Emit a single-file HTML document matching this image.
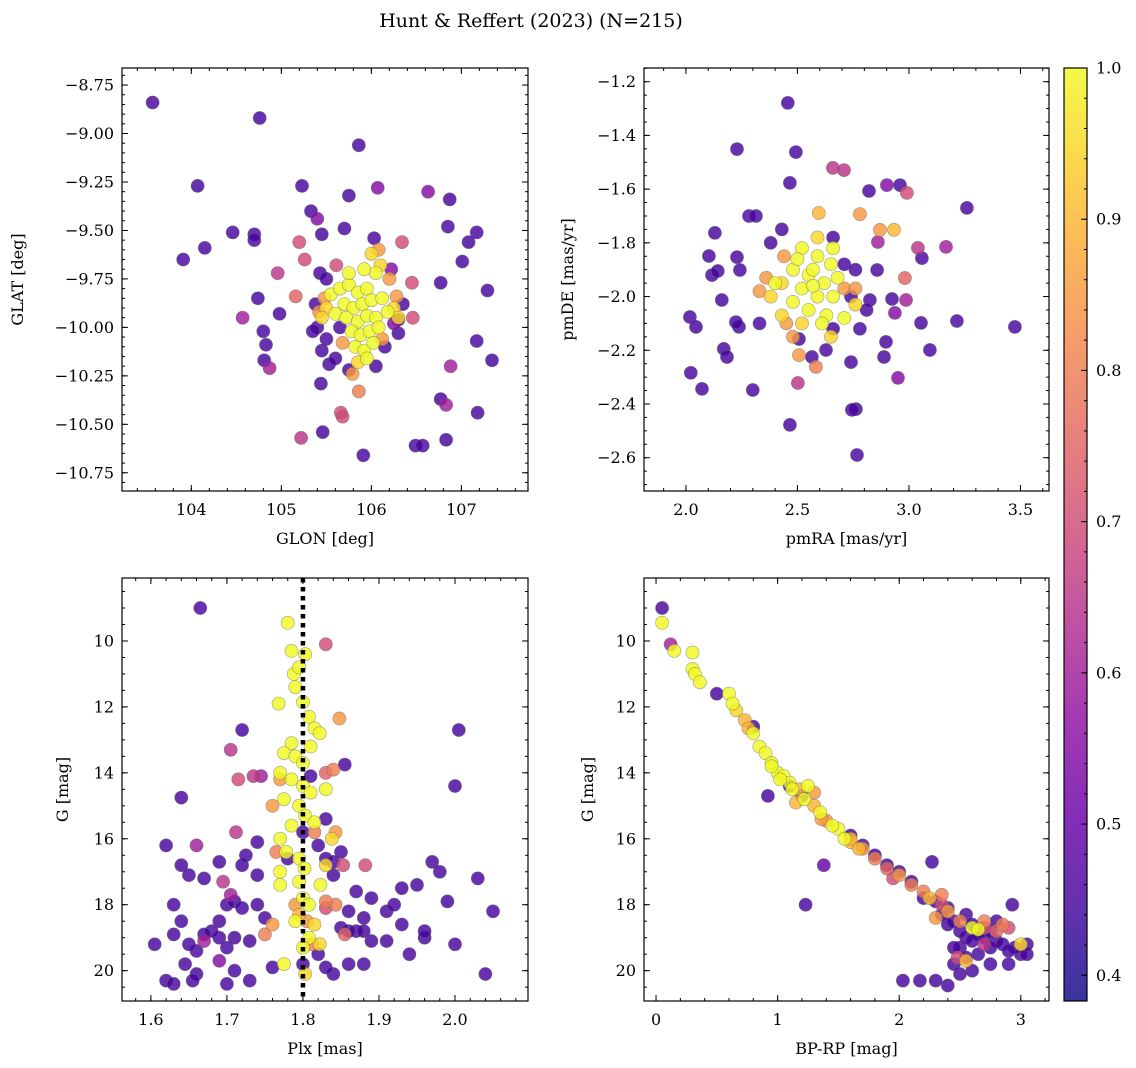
<!DOCTYPE html>
<html><head><meta charset="utf-8"><style>
body{margin:0;background:#fff}
svg{display:block;font-family:"DejaVu Serif","Liberation Serif",serif}
</style></head><body>
<svg id="fig" width="1136" height="1068" viewBox="0 0 1136 1068" xmlns="http://www.w3.org/2000/svg">
<text x="531" y="27" font-size="19" text-anchor="middle">Hunt &amp; Reffert (2023) (N=215)</text>
</svg>
<script>
// ---------- data (x, y, membership probability) ----------
const skyPoints = [
[103.57,-8.84],[104.76,-8.92],[105.86,-9.06],[104.07,-9.27],[105.23,-9.27],[106.07,-9.28,0.55],[106.63,-9.30,0.55],[106.87,-9.34],[105.75,-9.32],[105.33,-9.40],[105.40,-9.44,0.55],[104.15,-9.59],[103.91,-9.65],[104.46,-9.51],[104.70,-9.52],[104.70,-9.55],[105.20,-9.56,0.7],[105.45,-9.52],[105.70,-9.49],[106.85,-9.48],[107.17,-9.51],[107.08,-9.56],[107.01,-9.66],[106.03,-9.54],[106.34,-9.56,0.7],[105.26,-9.65,0.7],[104.96,-9.72,0.65],[105.43,-9.72],[105.61,-9.68,0.7],[106.45,-9.77,0.7],[106.77,-9.77],[107.29,-9.81],[104.74,-9.85],[105.16,-9.84,0.75],[104.57,-9.95,0.6],[104.98,-9.93],[104.80,-10.02],[104.83,-10.09],[104.81,-10.17],[104.87,-10.21,0.6],[107.17,-10.07],[107.34,-10.17],[106.88,-10.20,0.6],[105.44,-10.29],[105.53,-10.19],[105.66,-10.44,0.7],[105.68,-10.46,0.7],[105.22,-10.57,0.65],[105.46,-10.54],[105.91,-10.66],[106.49,-10.61],[106.57,-10.61],[106.83,-10.58],[107.18,-10.44],[106.77,-10.37],[106.83,-10.40,0.6],[105.86,-10.33,0.8],[105.79,-10.24,0.85],[106.46,-9.95,0.7],[106.30,-9.96],
[105.55,-9.83,1],[105.65,-9.80,1],[105.75,-9.78,1],[105.85,-9.82,1],[105.95,-9.80,1],[106.05,-9.72,1],[106.10,-9.68,0.95],[105.70,-9.88,1],[105.80,-9.90,1],[105.90,-9.88,1],[106.00,-9.86,1],[106.12,-9.85,1],[105.60,-9.93,1],[105.72,-9.95,1],[105.85,-9.97,1],[105.95,-9.94,1],[106.05,-9.95,1],[106.18,-9.92,1],[106.25,-9.90,0.95],[105.78,-10.02,1],[105.88,-10.04,1],[105.98,-10.02,1],[106.08,-10.00,1],[105.82,-10.10,1],[105.92,-10.12,1],[106.02,-10.08,1],[105.95,-10.16,1],[105.85,-10.18,0.95],[105.50,-9.90,0.95],[105.45,-9.95,0.95],[106.30,-9.95,0.95],[105.75,-9.72,1],[105.92,-9.70,1],[106.00,-9.62,0.95],
[106.08,-9.60,0.85],[106.20,-9.75,0.85],[105.42,-9.92,0.85],[105.48,-9.85,0.85],[106.12,-10.06,0.85],[105.68,-10.08,0.85],[106.28,-9.84,0.85],
[105.40,-10.00],[105.50,-10.06],[105.45,-10.12],[105.60,-10.16],[106.15,-10.10],[106.30,-10.03],[106.35,-9.88],[105.38,-9.88],[106.05,-10.20],[105.75,-10.22],[106.22,-9.70,0.55],[105.50,-9.75],[105.35,-10.02],[106.25,-9.98,0.55],[105.65,-10.0]
];
const pmPoints = [
[2.457,-1.279],[2.229,-1.451],[2.493,-1.462],[2.659,-1.521,0.65],[2.709,-1.529,0.65],[2.466,-1.577],[2.821,-1.607],[2.901,-1.585,0.55],[2.960,-1.585],[2.991,-1.614,0.7],[3.260,-1.670],[2.283,-1.700],[2.314,-1.700],[2.130,-1.763],[2.596,-1.689,0.9],[2.780,-1.693,0.85],[2.870,-1.752,0.85],[2.933,-1.752,0.9],[3.166,-1.815,0.6],[3.040,-1.819,0.65],[2.103,-1.849],[2.229,-1.853],[2.242,-1.901],[2.117,-1.920],[2.143,-1.905],[2.857,-1.901],[3.058,-1.857],[2.982,-1.931,0.75],[2.861,-1.797,0.6],[2.018,-2.076],[2.045,-2.113],[2.238,-2.113],[2.224,-2.095],[2.161,-2.013],[2.170,-2.195],[2.184,-2.225],[2.072,-2.344],[2.022,-2.284],[2.300,-2.348],[2.466,-2.478],[2.502,-2.322,0.65],[2.762,-2.419],[2.744,-2.422],[2.767,-2.590],[2.740,-2.244],[2.888,-2.225],[2.897,-2.169],[2.951,-2.303,0.55],[3.054,-2.098],[3.094,-2.199],[3.215,-2.091],[3.475,-2.113],[2.924,-2.009],[2.937,-2.061,0.55],[2.987,-2.013,0.6],[2.825,-2.013],[2.507,-2.218,0.85],[2.507,-2.158],[2.583,-2.262,0.8],[2.565,-2.225],[2.628,-2.199],
[2.52,-1.82,1],[2.59,-1.85,1],[2.65,-1.88,1],[2.48,-1.9,1],[2.55,-1.92,1],[2.62,-1.95,1],[2.68,-1.93,1],[2.52,-1.97,1],[2.59,-2.0,1],[2.66,-2.0,1],[2.48,-2.02,1],[2.55,-2.05,1],[2.63,-2.07,1],[2.57,-1.9,1],[2.61,-2.1,1],[2.52,-2.1,0.95],[2.43,-1.95,0.95],[2.71,-2.08,1],[2.59,-1.78,0.95],[2.66,-1.82,1],[2.38,-2.0,0.95],[2.43,-2.07,0.95],[2.76,-2.03,0.95],[2.65,-2.15,0.95],[2.5,-1.86,1],[2.57,-1.96,1],[2.40,-1.95,1],
[2.44,-1.85,0.85],[2.71,-1.97,0.85],[2.36,-1.93,0.85],[2.48,-2.15,0.85],[2.76,-1.97,0.85],[2.45,-2.1,0.85],[2.33,-1.98,0.85],
[2.71,-1.88],[2.76,-1.9],[2.74,-2.0],[2.81,-2.05],[2.38,-1.8],[2.33,-2.1],[2.66,-2.12],[2.78,-2.12],[2.43,-1.75],[2.66,-1.78]
];
const plxPoints = [
[1.665,9.0],
[1.780,9.45,1],[1.785,10.3,1],[1.788,11.0,1],[1.795,10.8,1],[1.803,10.4,1],[1.768,11.9,1],[1.800,11.85,1],[1.808,12.3,1],[1.815,12.65,1],[1.822,12.8,1],[1.785,13.1,1],[1.775,13.4,1],[1.790,13.5,1],[1.800,13.7,1],[1.770,14.0,1],[1.785,14.2,1],[1.800,14.4,1],[1.810,14.6,1],[1.775,14.8,1],[1.795,15.0,1],[1.803,15.3,1],[1.815,15.5,1],[1.785,15.6,1],[1.770,16.0,1],[1.778,16.4,1],[1.795,16.6,1],[1.802,16.9,1],[1.770,17.0,1],[1.795,17.3,1],[1.770,17.4,1],[1.800,17.8,1],[1.808,18.0,1],[1.790,18.5,1],[1.808,19.0,1],[1.800,19.3,1],[1.775,19.8,1],[1.803,20.1,0.95],[1.830,14.5,1],[1.838,16.0,0.95],[1.830,16.8,0.95],[1.823,17.4,1],[1.815,18.6,0.95],[1.822,19.2,0.95],[1.790,11.4,1],[1.810,13.2,1],
[1.770,14.2,0.85],[1.760,15.0,0.85],[1.765,16.4,0.8],[1.815,15.8,0.8],[1.843,15.8,0.85],[1.848,12.35,0.85],[1.840,13.9,0.8],[1.830,14.0,0.75],[1.760,18.6,0.85],[1.750,18.9,0.8],[1.795,18.3,0.9],[1.843,18.0,0.8],[1.790,18.0,0.85],[1.805,18.5,0.85],[1.830,17.9,0.8],[1.855,18.9,0.75],[1.812,19.2,0.8],[1.830,10.1,0.7],[1.715,14.2,0.7],[1.705,13.3,0.65],[1.735,14.1,0.65],[1.745,14.1,0.6],[1.712,15.8,0.65],[1.695,17.3,0.65],[1.705,17.7,0.6],[1.853,16.8,0.7],[1.882,16.8,0.7],[1.830,18.1,0.7],
[1.72,12.7],[1.855,13.75],[1.81,14.1],[1.80,15.8],[1.83,15.4],[1.64,14.75],[1.62,16.2],[1.66,16.2,0.6],[1.64,16.8],[1.65,17.1],[1.67,17.2],[1.69,16.7],[1.72,16.8],[1.725,16.5],[1.74,16.1],[1.74,17.1],[1.74,18.0],[1.75,18.4],[1.85,16.4],[1.83,16.6],[1.84,17.1],[1.87,17.6],[1.89,17.8],[1.86,18.2],[1.88,18.4],[1.87,18.8],[1.86,18.8],[1.91,18.2],[1.92,18.0],[1.93,17.5],[1.95,17.4],[1.97,16.7],[1.98,17.0],[1.99,17.9],[2.0,19.2],[2.005,12.7],[2.0,14.4],[2.03,17.2],[2.05,18.2],[2.04,20.1],[1.96,19.0],[1.96,18.8],[1.93,18.6],[1.94,19.5],[1.91,19.1],[1.89,19.1],[1.88,18.8],[1.86,19.8],[1.84,20.1],[1.83,19.9],[1.82,19.5],[1.80,19.8],[1.76,19.9],[1.73,19.1],[1.71,19.0],[1.70,19.3],[1.69,19.0],[1.68,18.8],[1.67,18.9],[1.66,19.4],[1.65,19.2],[1.64,18.5],[1.63,18.0],[1.63,18.9],[1.62,20.3],[1.66,20.1],[1.655,20.3],[1.645,19.8],[1.69,18.5],[1.70,18.0],[1.71,17.9],[1.72,18.1],[1.73,20.3],[1.70,20.4],[1.605,19.2],[1.63,20.4],[1.67,19.1,0.6],[1.69,19.7,0.55],[1.71,20.0],[1.78,16.6],[1.82,16.2],[1.84,16.7],[1.85,18.7],[1.88,19.8]
];
const cmdPoints = [
[0.05,9.45,1],[0.15,10.3,1],[0.3,10.35,1],[0.3,10.85,1],[0.32,11.0,1],[0.36,11.25,1],[0.6,11.6,1],[0.63,11.9,1],[0.66,12.1,0.95],[0.73,12.4,0.9],[0.76,12.65,0.9],[0.8,12.8,1],[0.85,13.2,1],[0.9,13.4,1],[0.95,13.7,1],[1.0,14.0,1],[1.05,14.1,1],[1.1,14.3,1],[1.18,14.5,0.9],[1.22,14.8,1],[1.3,14.6,0.85],[1.35,15.2,1],[1.4,15.45,0.85],[1.5,15.7,1],[1.55,16.0,1],[1.6,16.1,0.9],[1.7,16.3,0.85],[1.8,16.6,0.8],[1.9,16.9,0.75],[2.0,17.1,0.85],[2.1,17.4,0.8],[2.2,17.6,0.8],[2.25,17.8,0.9],[2.35,18.0,0.7],[2.4,18.2,0.85],[2.5,18.5,0.8],[2.6,18.7,1],[2.65,18.75,1],[2.7,18.5,0.8],[2.8,18.8,0.75],[2.85,18.6,0.8],[2.9,18.7,0.7],[3.0,19.2,0.95],[2.55,19.7,0.9],[2.48,19.6,0.7],[2.7,19.2,0.65],[2.7,18.7,0.7],
[1.02,14.2,1],[1.12,14.5,1],[1.25,14.4,1],[1.3,15.0,0.9],[1.45,15.6,1],[1.6,16.0,0.9],[1.15,14.9,0.9],[1.36,15.4,0.85],[1.67,16.3,0.9],[0.95,13.8,1],[2.3,18.4,0.85],[2.35,17.7,0.8],[1.95,17.2,0.7],
[0.05,9.0],[0.12,10.1,0.6],[0.5,11.6],[0.92,14.7],[1.38,16.8,0.5],[1.23,18.0],[2.27,16.7],[2.93,18.0],[2.03,20.3],[2.17,20.3],[2.3,20.3],[2.4,20.45],[2.5,20.1],[2.45,19.8],[2.5,19.3],[3.0,19.5],[3.05,19.5],[2.9,19.8],[2.75,19.8],[2.65,19.5],[2.55,19.0],[2.2,17.8],[2.3,17.9],[2.4,18.1],[2.45,18.5],[2.55,18.3],[2.6,18.6],[2.65,18.9],[2.7,19.0],[2.75,18.8],[2.8,19.1],[2.85,19.2],[2.95,19.3],[2.6,19.1],[2.5,18.8],[2.4,18.6],[2.35,18.3],[2.1,17.3],[2.0,17.0],[1.9,16.8],[1.8,16.5],[1.7,16.2],[1.6,15.9],[2.45,19.3],[2.55,19.6],[2.75,19.3],[2.9,19.4],[3.05,19.2],[2.8,18.5],[1.1,14.4],[1.2,14.7],[0.8,12.6],[2.6,20.0]
];
const glonTicks = [104,105,106,107];
const glatTicks = [-8.75,-9.0,-9.25,-9.5,-9.75,-10.0,-10.25,-10.5,-10.75];
const pmraTicks = [2.0,2.5,3.0,3.5];
const pmdeTicks = [-1.2,-1.4,-1.6,-1.8,-2.0,-2.2,-2.4,-2.6];
const plxTicks = [1.6,1.7,1.8,1.9,2.0];
const gTicks = [10,12,14,16,18,20];
const bprpTicks = [0,1,2,3];
const cbarTicks = [0.4,0.5,0.6,0.7,0.8,0.9,1.0];
const plxReference = 1.8;
const defaultProb = 0.45;
const vmin = 0.383, vmax = 1.0;

const NS = "http://www.w3.org/2000/svg";
const svg = document.getElementById('fig');
function mk(tag, attrs, parent){const e=document.createElementNS(NS,tag);for(const k in attrs)e.setAttribute(k,attrs[k]);(parent||svg).appendChild(e);return e;}
const plasma=[[13,8,135],[65,4,157],[106,0,168],[143,13,164],[177,42,144],[204,71,120],[225,100,98],[242,132,75],[252,166,54],[252,206,37],[240,249,33]];
function cmap(v){let t=(v-vmin)/(vmax-vmin);t=Math.max(0,Math.min(1,t))*10;const i=Math.min(9,Math.floor(t)),f=t-i;const a=plasma[i],b=plasma[i+1];return `rgb(${Math.round(a[0]+(b[0]-a[0])*f)},${Math.round(a[1]+(b[1]-a[1])*f)},${Math.round(a[2]+(b[2]-a[2])*f)})`;}
function fmt(v,d){return (v<0?'\u2212':'')+Math.abs(v).toFixed(d);}

function panel(cfg){
  const {name,L,T,W,H,xd,yd,invY}=cfg;
  const sx=v=>L+(v-xd[0])/(xd[1]-xd[0])*W;
  const sy=v=>invY? T+(v-yd[0])/(yd[1]-yd[0])*H : T+H-(v-yd[0])/(yd[1]-yd[0])*H;
  const g=mk('g',{});
  
  
  const clip=mk('clipPath',{id:name+'-clip'},g);mk('rect',{x:L,y:T,width:W,height:H},clip);
  const pg=mk('g',{'clip-path':`url(#${name}-clip)`},g);
  
  
  const pts=cfg.data.map(p=>[p[0],p[1],p.length>2?p[2]:defaultProb]).sort((a,b)=>a[2]-b[2]);
  pts.forEach(p=>{
    const c=mk('circle',{cx:sx(p[0]).toFixed(1),cy:sy(p[1]).toFixed(1),r:6.6,fill:cmap(p[2]),'fill-opacity':0.82,stroke:'#666','stroke-opacity':0.6,'stroke-width':0.6},pg);
    
    
  });
  if(cfg.vline!==undefined){
    const l=mk('line',{x1:sx(cfg.vline),x2:sx(cfg.vline),y1:T,y2:T+H,stroke:'#000','stroke-width':4.5,'stroke-dasharray':'4.5,4.5'},pg);
    
    
  }
  const fr=mk('rect',{x:L,y:T,width:W,height:H,fill:'none',stroke:'#000','stroke-width':1.2},g);
  
  
  const tk=mk('g',{stroke:'#000','stroke-width':1},g);
  for(let v=Math.ceil(xd[0]/cfg.xm-1e-6)*cfg.xm; v<=xd[1]; v+=cfg.xm){const x=sx(v);mk('line',{x1:x,x2:x,y1:T+H,y2:T+H-3},tk);mk('line',{x1:x,x2:x,y1:T,y2:T+3},tk);}
  const ylo=Math.min(...yd),yhi=Math.max(...yd);
  for(let v=Math.ceil(ylo/cfg.ym-1e-6)*cfg.ym; v<=yhi; v+=cfg.ym){const y=sy(v);mk('line',{x1:L,x2:L+3,y1:y,y2:y},tk);mk('line',{x1:L+W,x2:L+W-3,y1:y,y2:y},tk);}
  cfg.xt.forEach(v=>{const x=sx(v);mk('line',{x1:x,x2:x,y1:T+H,y2:T+H-6},tk);mk('line',{x1:x,x2:x,y1:T,y2:T+6},tk);
    const t=mk('text',{x:x,y:T+H+24,'font-size':16,'text-anchor':'middle'},g);t.textContent=fmt(v,cfg.xd_dec);
    
    });
  cfg.yt.forEach(v=>{const y=sy(v);mk('line',{x1:L,x2:L+6,y1:y,y2:y},tk);mk('line',{x1:L+W,x2:L+W-6,y1:y,y2:y},tk);
    const t=mk('text',{x:L-8,y:y+5.5,'font-size':16,'text-anchor':'end'},g);t.textContent=fmt(v,cfg.yd_dec);
    
    });
  const xl=mk('text',{x:L+W/2,y:T+H+53,'font-size':16,'text-anchor':'middle'},g);xl.textContent=cfg.xlabel;
  
  
  const yl=mk('text',{x:cfg.ylx,y:T+H/2,'font-size':16,'text-anchor':'middle',transform:`rotate(-90 ${cfg.ylx} ${T+H/2})`},g);yl.textContent=cfg.ylabel;
  
  
}

panel({name:'sky',L:122,T:68,W:406,H:423,xd:[103.23,107.74],yd:[-10.844,-8.662],data:skyPoints,xt:glonTicks,yt:glatTicks,xm:0.2,ym:0.05,xd_dec:0,yd_dec:2,xlabel:'GLON [deg]',ylabel:'GLAT [deg]',ylx:23});
panel({name:'proper-motion',L:644,T:68,W:405,H:423,xd:[1.812,3.628],yd:[-2.724,-1.149],data:pmPoints,xt:pmraTicks,yt:pmdeTicks,xm:0.1,ym:0.05,xd_dec:1,yd_dec:1,xlabel:'pmRA [mas/yr]',ylabel:'pmDE [mas/yr]',ylx:573});
panel({name:'parallax',L:122,T:578,W:406,H:423,xd:[1.562,2.096],yd:[8.09,20.92],invY:true,data:plxPoints,xt:plxTicks,yt:gTicks,xm:0.02,ym:0.5,xd_dec:1,yd_dec:0,xlabel:'Plx [mas]',ylabel:'G [mag]',ylx:68,vline:plxReference});
panel({name:'cmd',L:644,T:578,W:405,H:423,xd:[-0.099,3.232],yd:[8.09,20.92],invY:true,data:cmdPoints,xt:bprpTicks,yt:gTicks,xm:0.2,ym:0.5,xd_dec:0,yd_dec:0,xlabel:'BP-RP [mag]',ylabel:'G [mag]',ylx:593});

// colorbar
(function(){
  const L=1064,T=68,W=23,H=933;
  const sy=v=>T+H-(v-vmin)/(vmax-vmin)*H;
  const g=mk('g',{});
  
  
  const defs=mk('defs',{},g);
  const lg=mk('linearGradient',{id:'cbg',x1:0,y1:1,x2:0,y2:0},defs);
  for(let i=0;i<=20;i++){const v=vmin+(vmax-vmin)*i/20;mk('stop',{offset:i/20,'stop-color':cmap(v),'stop-opacity':0.82},lg);}
  mk('rect',{x:L,y:T,width:W,height:H,fill:'url(#cbg)',stroke:'#000','stroke-width':1.2},g);
  for(let v=0.40;v<=1.0001;v+=0.02){const y=sy(v);mk('line',{x1:L+W,x2:L+W-3,y1:y,y2:y,stroke:'#000'},g);}
  cbarTicks.forEach(v=>{const y=sy(v);mk('line',{x1:L+W,x2:L+W-6,y1:y,y2:y,stroke:'#000'},g);
    const t=mk('text',{x:L+W+9,y:y+5.5,'font-size':16},g);t.textContent=v.toFixed(1);
    
    });
})();
</script>
</body></html>
